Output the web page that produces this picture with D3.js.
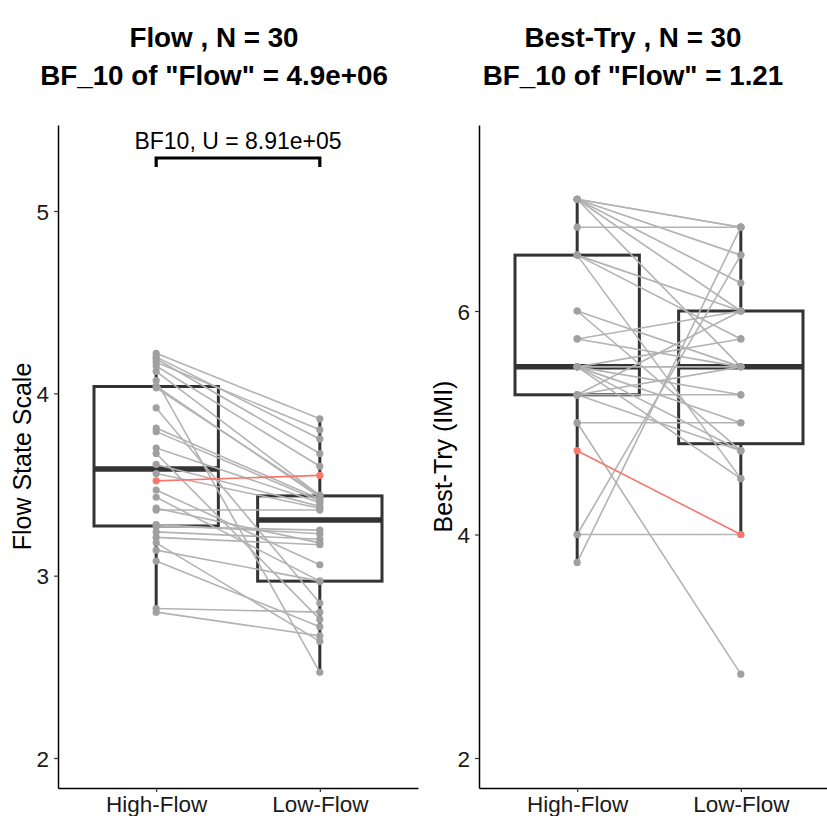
<!DOCTYPE html>
<html>
<head>
<meta charset="utf-8">
<script src="https://cdn.jsdelivr.net/npm/d3@7"></script>
<style>
  body { margin: 0; background: #fff; overflow: hidden; }
  text { font-family: "Liberation Sans", Arial, sans-serif; }
</style>
</head>
<body>
<div class="diagram"></div>
<script>
// conditions on the x axis
const categories = ["High-Flow", "Low-Flow"];

// Flow State Scale, one entry per participant (index 0 is the highlighted one)
const flowHigh = [3.52, 2.80, 2.82, 3.08, 3.14, 3.18, 3.21, 3.24, 3.27, 3.28,
                  3.36, 3.37, 3.43, 3.47, 3.56, 3.61, 3.67, 3.70, 3.79, 3.81,
                  3.92, 4.03, 4.04, 4.07, 4.12, 4.15, 4.17, 4.19, 4.20, 4.22];
const flowLow  = [3.55, 2.67, 2.80, 2.72, 2.97, 2.64, 3.17, 3.20, 3.25, 3.23,
                  3.36, 3.18, 2.97, 3.06, 3.37, 3.38, 2.76, 3.40, 3.41, 3.42,
                  2.85, 3.44, 3.43, 2.47, 3.44, 3.60, 3.80, 3.67, 3.75, 3.86];

// Best-Try (IMI), same participants
const bestHigh = [4.75, 3.75, 4.00, 4.00, 5.00, 5.00, 5.25, 5.25, 5.25, 5.25,
                  5.50, 5.50, 5.50, 5.50, 5.50, 5.50, 5.75, 5.75, 6.00, 6.00,
                  6.50, 6.50, 6.50, 6.75, 7.00, 7.00, 7.00, 7.00, 7.00, 7.00];
const bestLow  = [4.00, 6.75, 4.00, 6.50, 2.75, 5.00, 5.50, 4.75, 6.00, 5.25,
                  5.50, 5.75, 4.75, 5.25, 4.50, 5.00, 5.50, 6.00, 4.75, 5.50,
                  6.00, 5.75, 4.50, 6.75, 6.75, 6.75, 6.50, 6.25, 6.00, 5.50];

const highlighted = 0;

const flowTicks = [2, 3, 4, 5];
const bestTicks = [2, 4, 6];

const titlesFlow = ["Flow , N = 30", "BF_10 of \"Flow\" = 4.9e+06"];
const titlesBest = ["Best-Try , N = 30", "BF_10 of \"Flow\" = 1.21"];
const flowLabel = "Flow State Scale";
const bestLabel = "Best-Try (IMI)";
const bracketLabel = "BF10, U = 8.91e+05";

const W = 827, H = 816;
const plotTop = 125, plotBottom = 788;

const svg = d3.select(".diagram")
  .append("svg")
  .attr("width", W)
  .attr("height", H);

function boxStats(vals) {
  const s = vals.slice().sort(d3.ascending);
  const q1 = d3.quantile(s, 0.25), med = d3.quantile(s, 0.5), q3 = d3.quantile(s, 0.75);
  const iqr = q3 - q1;
  const lo = d3.min(s.filter(v => v >= q1 - 1.5 * iqr));
  const hi = d3.max(s.filter(v => v <= q3 + 1.5 * iqr));
  return { q1, med, q3, lo, hi };
}

function drawPanel(p) {
  const g = svg.append("g");
  const x = d3.scalePoint().domain(categories).range([p.left, p.left + 360]).padding(0.6);
  const y = d3.scaleLinear().domain(p.domain).range([plotBottom, plotTop]);
  const bw = x.step() * 0.76;

  // boxes
  [p.high, p.low].forEach((vals, i) => {
    const st = boxStats(vals);
    const cx = x(categories[i]);
    const bg = g.append("g").attr("stroke", "#333").attr("fill", "none");
    bg.append("line").attr("x1", cx).attr("x2", cx).attr("y1", y(st.q3)).attr("y2", y(st.hi)).attr("stroke-width", 3);
    bg.append("line").attr("x1", cx).attr("x2", cx).attr("y1", y(st.q1)).attr("y2", y(st.lo)).attr("stroke-width", 3);
    bg.append("rect").attr("x", cx - bw / 2).attr("y", y(st.q3))
      .attr("width", bw).attr("height", y(st.q1) - y(st.q3)).attr("stroke-width", 3);
    bg.append("line").attr("x1", cx - bw / 2).attr("x2", cx + bw / 2)
      .attr("y1", y(st.med)).attr("y2", y(st.med)).attr("stroke-width", 5.5);
  });

  // paired lines
  const idx = d3.range(p.high.length);
  const order = idx.filter(i => i !== highlighted).concat([highlighted]);
  g.append("g").selectAll("line")
    .data(order)
    .enter()
    .append("line")
    .attr("x1", x(categories[0]))
    .attr("x2", x(categories[1]))
    .attr("y1", i => y(p.high[i]))
    .attr("y2", i => y(p.low[i]))
    .attr("stroke", i => i === highlighted ? "#F8766D" : "#b3b3b3")
    .attr("stroke-width", 1.6);

  // points
  const pts = [];
  order.forEach(i => {
    pts.push({ c: categories[0], v: p.high[i], hl: i === highlighted });
    pts.push({ c: categories[1], v: p.low[i], hl: i === highlighted });
  });
  g.append("g").selectAll("circle")
    .data(pts)
    .enter()
    .append("circle")
    .attr("cx", d => x(d.c))
    .attr("cy", d => y(d.v))
    .attr("r", 3.6)
    .attr("fill", d => d.hl ? "#F8766D" : "#a0a0a0");

  // axes
  const ya = g.append("g")
    .attr("transform", `translate(${p.left},0)`)
    .call(d3.axisLeft(y).tickValues(p.ticks).tickFormat(d3.format("d"))
      .tickSize(4).tickSizeOuter(0).tickPadding(5));
  const xa = g.append("g")
    .attr("transform", `translate(0,${plotBottom})`)
    .call(d3.axisBottom(x).tickSize(4).tickSizeOuter(0));
  [ya, xa].forEach(a => {
    a.select(".domain").attr("stroke", "#000").attr("stroke-width", 1.5);
    a.selectAll(".tick line").attr("stroke", "#333").attr("stroke-width", 1.2);
    a.selectAll(".tick text").attr("fill", "#1a1a1a").style("font-size", "22.5px")
      .style("font-family", "'Liberation Sans', Arial, sans-serif");
  });
  xa.selectAll(".tick text").attr("y", 24).attr("dy", 0);
  ya.selectAll(".tick text").attr("dy", "0.36em");

  // axis title
  g.append("text")
    .attr("transform", `translate(${p.labelX},${(plotTop + plotBottom) / 2}) rotate(-90)`)
    .attr("text-anchor", "middle")
    .attr("dy", "0.35em")
    .style("font-size", "25px")
    .attr("fill", "#000")
    .text(p.label);

  // title
  p.titles.forEach((t, i) => {
    g.append("text")
      .attr("x", p.titleX)
      .attr("y", 47 + i * 38)
      .attr("text-anchor", "middle")
      .style("font-size", "27.8px")
      .style("font-weight", "bold")
      .attr("fill", "#000")
      .text(t);
  });

  return { x, y };
}

const leftPanel = drawPanel({
  left: 58, domain: [1.8355, 5.4717], ticks: flowTicks,
  high: flowHigh, low: flowLow, label: flowLabel, labelX: 22,
  titles: titlesFlow, titleX: 214
});

drawPanel({
  left: 479, domain: [1.7315, 7.6644], ticks: bestTicks,
  high: bestHigh, low: bestLow, label: bestLabel, labelX: 443,
  titles: titlesBest, titleX: 633
});

// significance bracket on the Flow panel
const bx1 = leftPanel.x(categories[0]), bx2 = leftPanel.x(categories[1]);
svg.append("path")
  .attr("d", `M${bx1},167 L${bx1},158 L${bx2},158 L${bx2},167`)
  .attr("fill", "none")
  .attr("stroke", "#000")
  .attr("stroke-width", 3.2);
svg.append("text")
  .attr("x", (bx1 + bx2) / 2)
  .attr("y", 149)
  .attr("text-anchor", "middle")
  .style("font-size", "23px")
  .attr("fill", "#000")
  .text(bracketLabel);
</script>
</body>
</html>
